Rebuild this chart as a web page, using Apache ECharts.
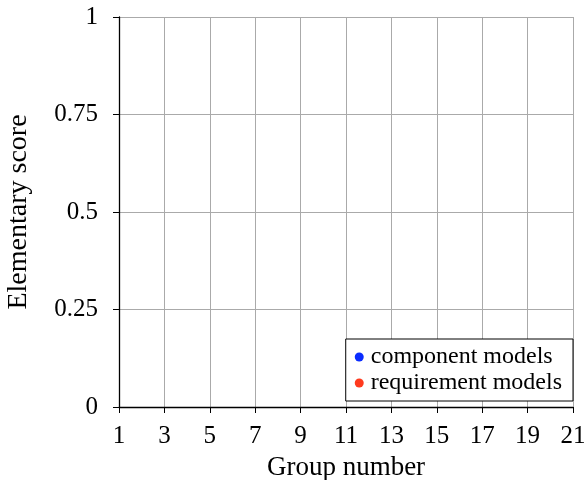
<!DOCTYPE html>
<html>
<head>
<meta charset="utf-8">
<script src="https://cdn.jsdelivr.net/npm/echarts@6/dist/echarts.min.js"></script>
<style>html,body{margin:0;padding:0;background:#fff;}#c{width:586px;height:480px;}</style>
</head>
<body>
<div id="c"></div>
<script>
const seriesNames = ['component models', 'requirement models'];
const seriesColors = ['#0a2cff', '#ff3a1e'];
const componentValues = [];
const requirementValues = [];
const xTicks = [1, 3, 5, 7, 9, 11, 13, 15, 17, 19, 21];
const yTicks = [0, 0.25, 0.5, 0.75, 1];

const font = '"Liberation Serif", "DejaVu Serif", serif';
const chart = echarts.init(document.getElementById('c'), null, {renderer: 'canvas'});
chart.setOption({
  animation: false,
  backgroundColor: '#fff',
  grid: {left: 119, right: 13, top: 17, bottom: 73, containLabel: false, outerBoundsMode: 'none'},
  xAxis: {
    type: 'value',
    min: xTicks[0], max: xTicks[xTicks.length - 1], interval: xTicks[1] - xTicks[0],
    name: 'Group number', nameLocation: 'middle', nameGap: 47,
    nameTextStyle: {fontFamily: font, fontSize: 27, color: '#000'},
    axisLine: {show: true, onZero: false, lineStyle: {color: '#000', width: 1.3}},
    axisTick: {show: true, length: 6, lineStyle: {color: '#000', width: 1}},
    axisLabel: {fontFamily: font, fontSize: 25, color: '#000', margin: 17},
    splitLine: {show: true, lineStyle: {color: '#aaaaaa', width: 1}}
  },
  yAxis: {
    type: 'value',
    min: yTicks[0], max: yTicks[yTicks.length - 1], interval: yTicks[1] - yTicks[0],
    name: 'Elementary score', nameLocation: 'middle', nameGap: 86, nameRotate: 90,
    nameTextStyle: {fontFamily: font, fontSize: 28, color: '#000'},
    axisLine: {show: true, onZero: false, lineStyle: {color: '#000', width: 1.3}},
    axisTick: {show: true, length: 6, lineStyle: {color: '#000', width: 1}},
    axisLabel: {fontFamily: font, fontSize: 25, color: '#000', margin: 21,
      formatter: v => String(v)},
    splitLine: {show: true, lineStyle: {color: '#aaaaaa', width: 1}}
  },
  legend: {
    show: true, orient: 'vertical', right: 13, bottom: 79,
    backgroundColor: '#fff', borderColor: '#000', borderWidth: 1,
    padding: [6, 11, 6, 9], itemGap: 2, itemWidth: 9, itemHeight: 9,
    icon: 'circle',
    textStyle: {fontFamily: font, fontSize: 24, color: '#000', padding: [0, 0, 0, 2]},
    data: seriesNames
  },
  series: [
    {name: seriesNames[0], type: 'scatter', data: componentValues, itemStyle: {color: seriesColors[0], opacity: 1}, symbolSize: 8},
    {name: seriesNames[1], type: 'scatter', data: requirementValues, itemStyle: {color: seriesColors[1], opacity: 1}, symbolSize: 8}
  ]
});
</script>
</body>
</html>
